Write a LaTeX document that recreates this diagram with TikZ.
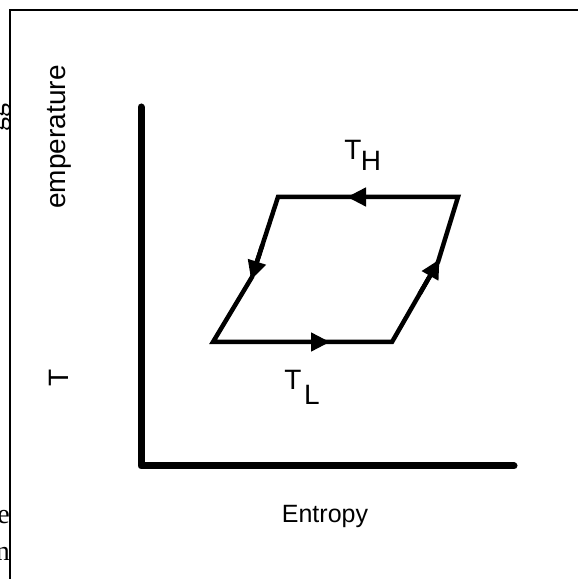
\documentclass[tikz,border=0pt]{standalone}
\usepackage{fontspec}
\setmainfont{Liberation Sans}
\newfontfamily\serifstray{Liberation Serif}
\usetikzlibrary{arrows.meta,calc}
\begin{document}
\begin{tikzpicture}[x=1pt,y=1pt,
  lbl/.style={inner sep=0pt,font=\fontsize{28}{28}\selectfont},
  stray/.style={inner sep=0pt,font=\serifstray\fontsize{28}{28}\selectfont},
  axisline/.style={line width=7pt,line cap=round,line join=round},
  cyc/.style={line width=4.5pt,line join=miter},
  arr/.style={cyc,-{Triangle[length=19pt,width=18pt]},shorten >=-3pt},
  frame/.style={line width=2pt}]
\useasboundingbox (0,0) rectangle (578,579);
% stray clipped text outside frame
\begin{scope}
\clip (0,0) rectangle (10,579);
\node[stray,rotate=90,anchor=south] (sg) at (11,461) {gg};
\node[stray,anchor=east] (se) at (10,62) {e};
\node[stray,anchor=east] (sn) at (10,25) {n};
\end{scope}
% frame
\coordinate (f1) at (10,0);
\coordinate (f2) at (10,569);
\coordinate (f3) at (579,569);
\draw[frame] (f1) -- (f2) -- (f3);
% axes
\coordinate (ytop) at (141,472);
\coordinate (orig) at (141,113);
\coordinate (xend) at (514,113);
\draw[axisline] (ytop) -- (orig) -- (xend);
% cycle
\coordinate (A) at (458,382);
\coordinate (B) at (278,382);
\coordinate (C) at (213,237);
\coordinate (D) at (392,237);
\coordinate (tAB) at (350,382);
\coordinate (tBC) at (252,302);
\coordinate (tCD) at (327,237);
\coordinate (tDA) at (438,317);
\draw[cyc] (B) -- (tBC) -- (C) -- (tCD) -- (D) -- (tDA) -- (A) -- cycle;
\draw[arr] ($(A)!0.5!(tAB)$) -- (tAB);
\draw[arr] ($(B)!0.6!(tBC)$) -- (tBC);
\draw[arr] ($(C)!0.6!(tCD)$) -- (tCD);
\draw[arr] ($(D)!0.6!(tDA)$) -- (tDA);
% labels
\node[lbl] (TH) at (353,429) {T};
\node[lbl] (H) at (371,418) {H};
\node[lbl] (TL) at (293,199) {T};
\node[lbl] (L) at (312,184) {L};
\node[lbl,font=\fontsize{25}{25}\selectfont] (xlab) at (325,63) {Entropy};
\node[lbl,rotate=90] (ylab) at (59,442) {emperature};
\node[lbl,rotate=90] (yT) at (59,201) {T};
\end{tikzpicture}
\end{document}
